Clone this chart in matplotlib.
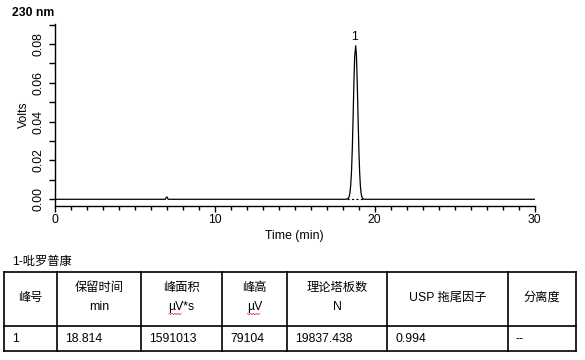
import matplotlib
matplotlib.use("Agg")
import matplotlib.pyplot as plt
import numpy as np

plt.rcParams['font.family'] = ['Liberation Sans', 'Noto Sans CJK SC', 'DejaVu Sans']
FS = 8.8

# chromatogram trace (min, volts)
time_min = [0.0, 6.9, 6.97, 7.02, 7.08, 7.2, 18.2, 18.35, 18.4, 18.45, 18.5, 18.55,
            18.6, 18.65, 18.7, 18.75, 18.814, 18.86, 18.91, 18.96, 19.01, 19.06,
            19.11, 19.16, 19.21, 19.26, 19.35, 30.0]
volts = [0.0, 0.0, 0.0011, 0.0011, 0.0, 0.0, 0.0, 0.0005, 0.0012, 0.0032, 0.0072,
         0.0141, 0.0258, 0.0420, 0.0596, 0.0736, 0.0791, 0.0738, 0.0599, 0.0423,
         0.0260, 0.0139, 0.0064, 0.0026, 0.0009, 0.0003, 0.0, 0.0]
peak_start, peak_end = 18.3, 19.3
peak_rt = 18.814
peak_h = 0.0791
peak_label = "1"

compound = "1-吡罗普康"
header_top = ["峰号", "保留时间", "峰面积", "峰高", "理论塔板数", "USP 拖尾因子", "分离度"]
header_bot = ["", "min", "µV*s", "µV", "N", "", ""]
row_vals = ["1", "18.814", "1591013", "79104", "19837.438", "0.994", "--"]

W, H = 585, 360
fig = plt.figure(figsize=(W / 100, H / 100), dpi=100)

# chart area in pixel units
L, R, T, B = 55, 534.5, 24, 205.5
ax = fig.add_axes([L / W, 1 - B / H, (R - L) / W, (B - T) / H])
ax.plot(time_min, volts, color='black', lw=0.9)
ax.plot([peak_start, peak_end], [0, 0], color='black', lw=0.8, ls=(0, (2, 2)))
ax.text(peak_rt - 0.05, peak_h + 0.0012, peak_label, ha='center', va='bottom', fontsize=FS)

ax.set_xlim(0, 30)
ax.set_ylim(-0.0032, 0.0903)
ax.set_xticks([0, 10, 20, 30])
ax.set_xticks(np.arange(0, 31, 1), minor=True)
ax.set_yticks([0.0, 0.02, 0.04, 0.06, 0.08])
ax.set_yticks(np.arange(0, 0.091, 0.01), minor=True)
ax.set_yticklabels(["0.00", "0.02", "0.04", "0.06", "0.08"], rotation=90, va='center')
for s in ['top', 'right']:
    ax.spines[s].set_visible(False)
for s in ['left', 'bottom']:
    ax.spines[s].set_linewidth(1.0)
ax.tick_params(axis='x', which='major', length=4.5, width=1.0, pad=1.5, labelsize=FS)
ax.tick_params(axis='x', which='minor', length=2.8, width=1.0)
ax.tick_params(axis='y', which='both', length=4.3, width=1.0, pad=3, labelsize=FS)
ax.set_xlabel("Time (min)", fontsize=FS, labelpad=3)
ax.set_ylabel("Volts", fontsize=FS, labelpad=2)

fig.text(12 / W, 1 - 13 / H, "230 nm", fontsize=FS, fontweight='bold', va='center', ha='left')

# table overlay in pixel coordinates
tab = fig.add_axes([0, 0, 1, 1])
tab.set_xlim(0, W)
tab.set_ylim(H, 0)
tab.axis('off')
tab.patch.set_alpha(0)

tab.text(12, 262, compound, fontsize=FS, va='center', ha='left')

cols = [4, 57, 141, 222, 287, 387, 508, 576]
y_top, y_mid, y_bot = 272, 326, 351
for y in (y_top, y_mid, y_bot):
    tab.plot([cols[0], cols[-1]], [y, y], color='black', lw=1.2, solid_capstyle='projecting')
for x in cols:
    tab.plot([x, x], [y_top, y_bot], color='black', lw=1.2, solid_capstyle='projecting')

for i in range(len(header_top)):
    cx = (cols[i] + cols[i + 1]) / 2
    if header_bot[i]:
        tab.text(cx, 288, header_top[i], fontsize=FS, ha='center', va='center')
        t = tab.text(cx, 307, header_bot[i], fontsize=FS, ha='center', va='center')
        if header_bot[i].startswith("µ"):
            # spell-check squiggle under the "µV" part
            half = {"µV*s": 12.5, "µV": 7.0}[header_bot[i]]
            x0 = cx - half
            n = 9
            xs = x0 + np.arange(n) * 1.5
            ys = 313.5 + 1.0 * (np.arange(n) % 2)
            tab.plot(xs, ys, color='#e03030', lw=0.6)
    else:
        tab.text(cx, 298, header_top[i], fontsize=FS, ha='center', va='center')
    tab.text(cols[i] + 8, 339, row_vals[i], fontsize=FS, ha='left', va='center')

fig.savefig("out.png", dpi=100)
